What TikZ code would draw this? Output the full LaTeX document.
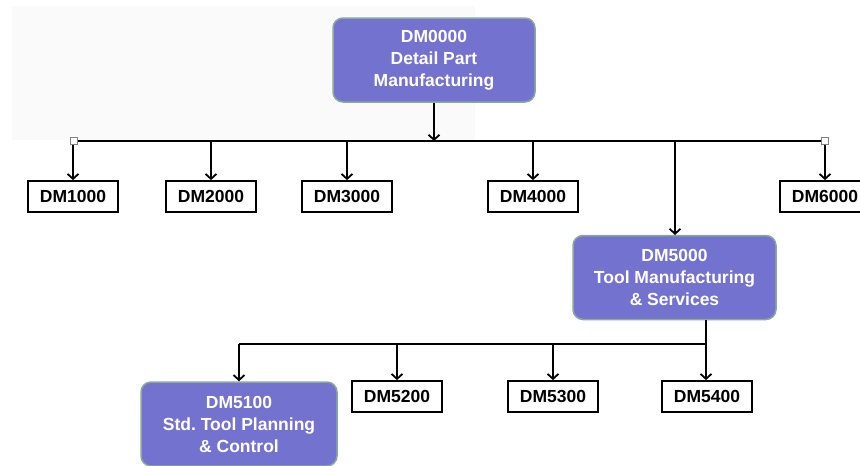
\documentclass[tikz,border=0pt]{standalone}
\usepackage{fontspec}
\setmainfont{Liberation Sans}
\usetikzlibrary{arrows.meta}
\definecolor{unitfill}{HTML}{7472CF}
\definecolor{unitedge}{HTML}{8CA89E}
\tikzset{
  unit/.style={draw=unitedge, line width=1.5pt, fill=unitfill, rounded corners=10pt,
    text=white, align=center, minimum height=84pt, inner sep=0pt,
    font=\fontsize{17.5}{22}\selectfont\bfseries},
  leaf/.style={draw=black, line width=1.8pt, fill=white, minimum width=90pt,
    minimum height=31pt, inner sep=0pt, font=\fontsize{17.5}{20}\selectfont\bfseries},
  arr/.style={line width=1.8pt, -{Straight Barb[length=5pt,width=11pt,line width=1.8pt]}},
  link/.style={line width=1.8pt},
  handle/.style={draw=gray, fill=white, line width=0.8pt, minimum size=7pt, inner sep=0pt}
}
\begin{document}
\begin{tikzpicture}[x=1pt,y=-1pt]
\useasboundingbox (0,0) rectangle (860,466);
% Faint backdrop behind the top box
\fill[black!2] (12,6) rectangle (475,140);

% Top unit
\node [unit, minimum width=202pt] (dm0) at (434,60) {DM0000\\Detail Part\\Manufacturing};

% First level
\node [leaf] (dm1) at (73,196.5) {DM1000};
\node [leaf] (dm2) at (211,196.5) {DM2000};
\node [leaf] (dm3) at (347,196.5) {DM3000};
\node [leaf] (dm4) at (533,196.5) {DM4000};
\node [leaf] (dm6) at (825,196.5) {DM6000};
\node [unit, minimum width=203pt] (dm5) at (674.5,277.5) {DM5000\\Tool Manufacturing\\\& Services};

% Second level
\node [unit, minimum width=196pt] (dm51) at (239,424) {DM5100\\Std.\ Tool Planning\\\& Control};
\node [leaf] (dm52) at (397,396.5) {DM5200};
\node [leaf] (dm53) at (553,396.5) {DM5300};
\node [leaf] (dm54) at (707,396.5) {DM5400};

% Bus under DM0000, ends marked by small handles
\coordinate (busL) at (74,141);
\coordinate (busR) at (825,141);
\draw [link] (busL) -- (busR);
\draw [arr] (dm0.south) -- (dm0.south |- busL);
\foreach \x in {dm1,dm2,dm3,dm4,dm6}
	\draw [arr] (\x.north |- busL) -- (\x.north);
\draw [arr] (675,141) -- (675,235);
\node [handle] (hL) at (busL) {};
\node [handle] (hR) at (busR) {};

% Bus under DM5000
\coordinate (bus2) at (706,344);
\draw [link] (dm51.north |- bus2) -- (bus2);
\draw [arr] (dm5.south -| bus2) -- (dm54.north -| bus2);
\foreach \x in {dm51,dm52,dm53}
	\draw [arr] (\x.north |- bus2) -- (\x.north);

\end{tikzpicture}
\end{document}
